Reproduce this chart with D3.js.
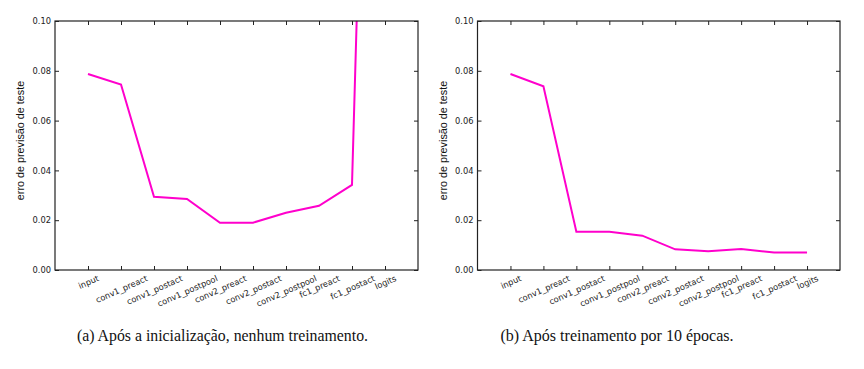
<!DOCTYPE html>
<html>
<head>
<meta charset="utf-8">
<script src="https://cdn.jsdelivr.net/npm/d3@7"></script>
<style>
  body { margin: 0; background: #fff; }
  svg { display: block; }
  .cap { font-family: "Liberation Serif", "Times New Roman", serif; }
</style>
</head>
<body>
<svg id="chart" width="864" height="369"></svg>
<script>
// ---- data ----
const categories = ["input", "conv1_preact", "conv1_postact", "conv1_postpool", "conv2_preact",
                    "conv2_postact", "conv2_postpool", "fc1_preact", "fc1_postact", "logits"];
const errInit    = [0.0787, 0.0745, 0.0294, 0.0285, 0.0190, 0.0190, 0.0230, 0.0258, 0.0342, 0.50];
const errTrained = [0.0787, 0.0738, 0.0154, 0.0154, 0.0138, 0.0083, 0.0075, 0.0084, 0.0070, 0.0070];
const yTicks = [0, 0.02, 0.04, 0.06, 0.08, 0.10];
const yLabel = "erro de previsão de teste";
const captions = ["(a) Após a inicialização, nenhum treinamento.", "(b) Após treinamento por 10 épocas."];

// ---- layout ----
const svg = d3.select("#chart");
const panels = [
  { x0: 55, x1: 418, values: errInit, caption: captions[0], capX: 222.5, capW: 291, ylx: 20 },
  { x0: 477.5, x1: 840, values: errTrained, caption: captions[1], capX: 617, capW: 233, ylx: 443 }
];
const yTop = 21, yBot = 270;
const lineColor = "#ff00cc";
const rot = 24;

panels.forEach((p, pi) => {
  const x = d3.scaleLinear().domain([-1, categories.length]).range([p.x0, p.x1]);
  const y = d3.scaleLinear().domain([0, 0.1]).range([yBot, yTop]);
  const g = svg.append("g");

  const clipId = "clip" + pi;
  svg.append("clipPath").attr("id", clipId)
    .append("rect").attr("x", p.x0).attr("y", yTop).attr("width", p.x1 - p.x0).attr("height", yBot - yTop);

  const line = d3.line().x((d, i) => x(i)).y(d => y(d));
  g.append("path").datum(p.values)
    .attr("clip-path", `url(#${clipId})`)
    .attr("d", line)
    .attr("fill", "none")
    .attr("stroke", lineColor)
    .attr("stroke-width", 2)
    .attr("stroke-linejoin", "miter");

  const idx = d3.range(categories.length);

  const xb = g.append("g").attr("transform", `translate(0,${yBot})`)
    .call(d3.axisBottom(x).tickValues(idx).tickFormat(i => categories[i]).tickSizeInner(-4).tickSizeOuter(0).tickPadding(0));
  const xt = g.append("g").attr("transform", `translate(0,${yTop})`)
    .call(d3.axisTop(x).tickValues(idx).tickFormat("").tickSizeInner(-4).tickSizeOuter(0));
  const yl = g.append("g").attr("transform", `translate(${p.x0},0)`)
    .call(d3.axisLeft(y).tickValues(yTicks).tickFormat(d3.format(".2f")).tickSizeInner(-4).tickSizeOuter(0).tickPadding(3));
  const yr = g.append("g").attr("transform", `translate(${p.x1},0)`)
    .call(d3.axisRight(y).tickValues(yTicks).tickFormat("").tickSizeInner(-4).tickSizeOuter(0));

  [xb, xt, yl, yr].forEach(a => {
    a.select(".domain").remove();
    a.selectAll(".tick line").attr("stroke", "#222").attr("stroke-width", 1);
  });

  yl.selectAll("text")
    .attr("font-family", "DejaVu Sans")
    .attr("font-size", 8.3)
    .attr("fill", "#222")
    .attr("x", -4);

  const th = rot * Math.PI / 180;
  xb.selectAll(".tick text")
    .attr("font-family", "DejaVu Sans")
    .attr("font-size", 8.3)
    .attr("fill", "#222")
    .attr("text-anchor", "middle")
    .attr("dominant-baseline", "central")
    .attr("y", 0).attr("dy", null)
    .each(function() {
      const w = this.getComputedTextLength();
      const h = 8;
      const H = w * Math.sin(th) + h * Math.cos(th);
      d3.select(this).attr("transform", `translate(0,${4 + H / 2}) rotate(${-rot})`);
    });

  g.append("rect")
    .attr("x", p.x0).attr("y", yTop)
    .attr("width", p.x1 - p.x0).attr("height", yBot - yTop)
    .attr("fill", "none").attr("stroke", "#222").attr("stroke-width", 1.2);

  g.append("text")
    .attr("transform", `translate(${p.ylx},${(yTop + yBot) / 2 - 5}) rotate(-90)`)
    .attr("text-anchor", "middle")
    .attr("dominant-baseline", "central")
    .attr("font-family", "Liberation Sans")
    .attr("font-size", 10.8)
    .attr("fill", "#111")
    .text(yLabel);

  svg.append("text")
    .attr("class", "cap")
    .attr("x", p.capX).attr("y", 340.5)
    .attr("text-anchor", "middle")
    .attr("font-size", 16)
    .attr("textLength", p.capW)
    .attr("lengthAdjust", "spacingAndGlyphs")
    .attr("fill", "#111")
    .text(p.caption);
});
</script>
</body>
</html>
